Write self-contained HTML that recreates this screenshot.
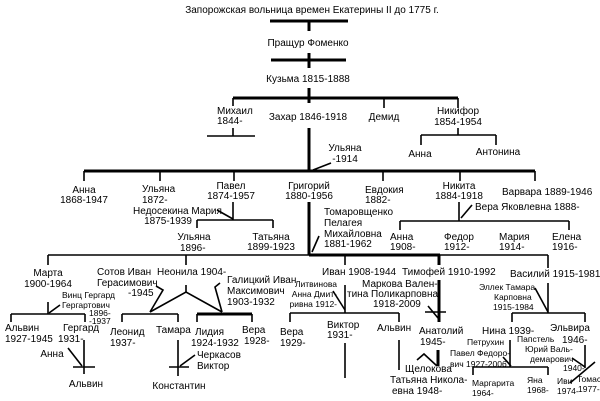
<!DOCTYPE html>
<html><head><meta charset="utf-8"><style>
html,body{margin:0;padding:0;background:#fff;}
svg{display:block;}
text{font-family:"Liberation Sans",sans-serif;font-size:10px;fill:#000;}
.s{font-size:8.5px;}
.c{text-anchor:middle;}
line,polyline{stroke:#000;stroke-width:1.6;fill:none;}
.t{stroke-width:3;}
</style></head><body>
<svg width="600" height="401" viewBox="0 0 600 401">
<text x="312" y="13" class="c">Запорожская вольница времен Екатерины II до 1775 г.</text>
<line x1="270" y1="21" x2="348" y2="21" class="t"/><line x1="309" y1="21" x2="309" y2="31" class="t"/>
<text x="308" y="46" class="c">Пращур Фоменко</text>
<line x1="271" y1="60" x2="346" y2="60" class="t"/><line x1="309" y1="53" x2="309" y2="68" class="t"/>
<text x="308" y="82" class="c">Кузьма 1815-1888</text>
<line x1="309" y1="88" x2="309" y2="103" class="t"/>
<line x1="233" y1="98" x2="458" y2="98" class="t"/>
<line x1="233" y1="98" x2="233" y2="106"/><line x1="384" y1="98" x2="384" y2="108"/><line x1="458" y1="98" x2="458" y2="108"/>
<text x="217" y="114">Михаил</text><text x="217" y="124">1844-</text>
<line x1="207" y1="136" x2="255" y2="136"/><line x1="233" y1="128" x2="233" y2="136"/>
<text x="308" y="120" class="c">Захар 1846-1918</text>
<text x="384" y="120" class="c">Демид</text>
<text x="458" y="114" class="c">Никифор</text><text x="458" y="125" class="c">1854-1954</text>
<line x1="458" y1="128" x2="458" y2="135"/><line x1="421" y1="135" x2="496" y2="135"/>
<line x1="421" y1="135" x2="421" y2="145"/><line x1="496" y1="135" x2="496" y2="145"/>
<text x="420" y="157" class="c">Анна</text><text x="498" y="155" class="c">Антонина</text>
<line x1="309" y1="128" x2="309" y2="172" class="t"/>
<text x="345" y="151" class="c">Ульяна</text><text x="345" y="162" class="c">-1914</text>
<line x1="331" y1="163" x2="313" y2="170"/>
<line x1="84" y1="171" x2="535" y2="171" class="t"/>
<line x1="84" y1="171" x2="84" y2="181"/><line x1="160" y1="171" x2="160" y2="181"/><line x1="234" y1="171" x2="234" y2="181"/><line x1="383" y1="171" x2="383" y2="181"/><line x1="460" y1="171" x2="460" y2="181"/><line x1="535" y1="171" x2="535" y2="181"/>
<text x="84" y="193" class="c">Анна</text><text x="84" y="203" class="c">1868-1947</text>
<text x="142" y="192">Ульяна</text><text x="142" y="203">1872-</text>
<text x="133" y="214">Недосекина Мария</text><text x="168" y="224" class="c">1875-1939</text>
<text x="231" y="189" class="c">Павел</text><text x="231" y="199" class="c">1874-1957</text>
<text x="309" y="189" class="c">Григорий</text><text x="309" y="199" class="c">1880-1956</text>
<text x="365" y="193">Евдокия</text><text x="365" y="203">1882-</text>
<text x="459" y="189" class="c">Никита</text><text x="459" y="199" class="c">1884-1918</text>
<text x="502" y="195">Варвара 1889-1946</text>
<line x1="233" y1="202" x2="233" y2="220"/><line x1="217" y1="210" x2="233" y2="219"/>
<line x1="197" y1="220" x2="273" y2="220"/><line x1="197" y1="220" x2="197" y2="228"/><line x1="273" y1="220" x2="273" y2="228"/>
<text x="194" y="240" class="c">Ульяна</text><text x="180" y="251">1896-</text>
<text x="271" y="240" class="c">Татьяна</text><text x="271" y="250" class="c">1899-1923</text>
<line x1="309" y1="202" x2="309" y2="255" class="t"/>
<text x="324" y="215">Томаровщенко</text><text x="324" y="226">Пелагея</text><text x="324" y="237">Михайловна</text><text x="324" y="247">1881-1962</text>
<line x1="319" y1="236" x2="312" y2="252"/>
<line x1="459" y1="202" x2="459" y2="221"/><line x1="472" y1="205" x2="461" y2="218"/>
<text x="475" y="210">Вера Яковлевна 1888-</text>
<line x1="400" y1="221" x2="569" y2="221"/><line x1="400" y1="221" x2="400" y2="230"/><line x1="569" y1="221" x2="569" y2="230"/>
<text x="390" y="240">Анна</text><text x="390" y="250">1908-</text>
<text x="444" y="240">Федор</text><text x="444" y="250">1912-</text>
<text x="499" y="240">Мария</text><text x="499" y="250">1914-</text>
<text x="552" y="240">Елена</text><text x="552" y="250">1916-</text>
<line x1="48" y1="255" x2="548" y2="255"/><line x1="309" y1="255" x2="440" y2="255" class="t"/>
<line x1="48" y1="255" x2="48" y2="265"/><line x1="186" y1="255" x2="186" y2="265"/><line x1="345" y1="255" x2="345" y2="265"/><line x1="439" y1="255" x2="439" y2="265" class="t"/><line x1="548" y1="255" x2="548" y2="268"/>
<text x="48" y="276" class="c">Марта</text><text x="48" y="287" class="c">1900-1964</text>
<text x="62" y="298" class="s">Винц Гергард</text><text x="62" y="308" class="s">Гергартович</text><text x="89" y="316" class="s">1896-</text><text x="89" y="324" class="s">-1937</text>
<line x1="48" y1="302" x2="48" y2="314"/><line x1="60" y1="305" x2="49" y2="313"/>
<line x1="11" y1="314" x2="85" y2="314"/><line x1="11" y1="314" x2="11" y2="322"/><line x1="85" y1="314" x2="85" y2="322"/>
<text x="5" y="331">Альвин</text><text x="5" y="342">1927-1945</text>
<text x="63" y="331">Гергард</text><text x="58" y="342">1931-</text>
<line x1="84" y1="340" x2="84" y2="374"/><line x1="68" y1="348" x2="82" y2="366"/><line x1="73" y1="367" x2="95" y2="367"/>
<text x="52" y="357" class="c">Анна</text><text x="86" y="387" class="c">Альвин</text>
<text x="97" y="275">Сотов Иван</text><text x="97" y="286">Герасимович</text><text x="128" y="296">-1945</text>
<polyline points="156,286 163,290 150,312"/>
<text x="157" y="275">Неонила 1904-</text>
<line x1="186" y1="285" x2="186" y2="292"/><polyline points="150,312 186,292 222,312"/>
<text x="227" y="283">Галицкий Иван</text><text x="227" y="294">Максимович</text><text x="227" y="305">1903-1932</text>
<polyline points="220,283 215,287 222,312"/>
<line x1="122" y1="314" x2="178" y2="314"/><line x1="122" y1="314" x2="122" y2="322"/><line x1="178" y1="314" x2="178" y2="322"/>
<line x1="197" y1="314" x2="252" y2="314" class="t"/><line x1="197" y1="314" x2="197" y2="322"/><line x1="252" y1="314" x2="252" y2="322"/>
<text x="110" y="335">Леонид</text><text x="110" y="346">1937-</text>
<text x="156" y="333">Тамара</text>
<text x="195" y="335">Лидия</text><text x="191" y="346">1924-1932</text>
<text x="242" y="333">Вера</text><text x="244" y="344">1928-</text>
<line x1="178" y1="340" x2="178" y2="376"/><line x1="195" y1="355" x2="180" y2="366"/><line x1="169" y1="367" x2="189" y2="367"/>
<text x="197" y="358">Черкасов</text><text x="197" y="369">Виктор</text>
<text x="179" y="389" class="c">Константин</text>
<text x="337" y="287" class="s" text-anchor="end">Литвинова</text><text x="337" y="297" class="s" text-anchor="end">Анна Дмит-</text><text x="337" y="307" class="s" text-anchor="end">ривна 1912-</text>
<text x="322" y="275">Иван 1908-1944</text>
<line x1="345" y1="285" x2="345" y2="313"/><line x1="333" y1="291" x2="345" y2="310"/>
<line x1="290" y1="313" x2="399" y2="313"/><line x1="290" y1="313" x2="290" y2="322"/><line x1="399" y1="313" x2="399" y2="322"/>
<text x="280" y="335">Вера</text><text x="280" y="346">1929-</text>
<text x="327" y="328">Виктор</text><text x="327" y="338">1931-</text><line x1="345" y1="343" x2="345" y2="378"/>
<text x="377" y="331">Альвин</text><line x1="399" y1="340" x2="399" y2="370"/>
<text x="402" y="275">Тимофей 1910-1992</text>
<text x="362" y="287">Маркова Вален-</text><text x="347" y="297">тина Поликарповна</text><text x="373" y="307">1918-2009</text>
<line x1="439" y1="280" x2="439" y2="322" class="t"/><line x1="425" y1="312" x2="446" y2="312"/><line x1="428" y1="306" x2="438" y2="318"/>
<text x="419" y="334">Анатолий</text><text x="420" y="345">1945-</text>
<line x1="438" y1="350" x2="438" y2="366" class="t"/><polyline points="417,360 424,354 437,366"/>
<text x="405" y="372">Щелокова</text><text x="390" y="383">Татьяна Никола-</text><text x="392" y="394">евна 1948-</text>
<text x="510" y="277">Василий 1915-1981</text>
<line x1="548" y1="283" x2="548" y2="313"/><line x1="535" y1="288" x2="548" y2="312"/>
<text x="479" y="290" class="s">Эллек Тамара</text><text x="494" y="300" class="s">Карповна</text><text x="493" y="310" class="s">1915-1984</text>
<line x1="512" y1="313" x2="585" y2="313"/><line x1="512" y1="313" x2="512" y2="322"/><line x1="585" y1="313" x2="585" y2="322"/>
<text x="482" y="334">Нина 1939-</text>
<text x="550" y="331">Эльвира</text><text x="562" y="343">1946-</text>
<text x="467" y="345" class="s">Петрухин</text><text x="450" y="356" class="s">Павел Федоро-</text><text x="450" y="367" class="s">вич 1927-2006</text>
<line x1="510" y1="340" x2="510" y2="367"/><line x1="503" y1="357" x2="511" y2="366"/>
<line x1="473" y1="367" x2="548" y2="367"/><line x1="473" y1="367" x2="473" y2="375"/><line x1="548" y1="367" x2="548" y2="375"/>
<text x="472" y="386" class="s">Маргарита</text><text x="472" y="396" class="s">1964-</text>
<text x="527" y="383" class="s">Яна</text><text x="527" y="393" class="s">1968-</text>
<text x="517" y="342" class="s">Папстель</text><text x="525" y="352" class="s">Юрий Валь-</text><text x="530" y="362" class="s">демарович</text><text x="563" y="371" class="s">1940-</text>
<line x1="585" y1="345" x2="585" y2="368"/><line x1="572" y1="358" x2="585" y2="367"/><line x1="570" y1="383" x2="595" y2="362"/>
<text x="557" y="384" class="s">Иви</text><text x="557" y="394" class="s">1974-</text>
<text x="577" y="382" class="s">Томас</text><text x="578" y="392" class="s">1977-</text>
</svg>
</body></html>
